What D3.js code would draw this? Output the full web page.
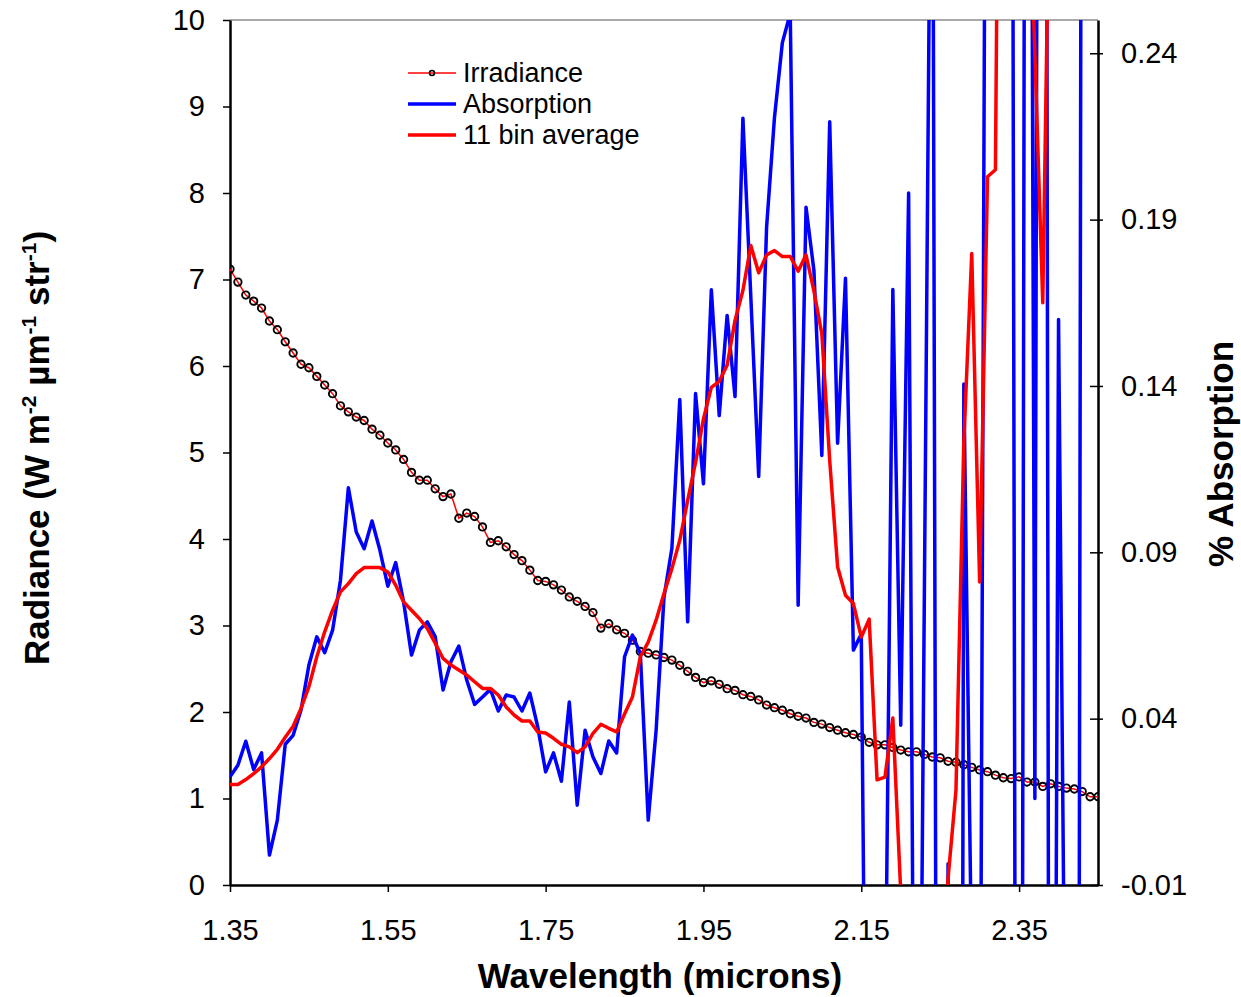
<!DOCTYPE html>
<meta charset="utf-8">
<style>
  body { margin: 0; background: #fff; }
  text { font-family: Arial, "Liberation Sans", sans-serif; fill: #000; }
</style>
<svg width="1241" height="997"></svg>
<script src="https://d3js.org/d3.v7.min.js"></script>
<script>

// wavelength in microns, one bin every 0.01
var wavelength = [
  1.35, 1.36, 1.37, 1.38, 1.39, 1.40, 1.41, 1.42, 1.43, 1.44,
  1.45, 1.46, 1.47, 1.48, 1.49, 1.50, 1.51, 1.52, 1.53, 1.54,
  1.55, 1.56, 1.57, 1.58, 1.59, 1.60, 1.61, 1.62, 1.63, 1.64,
  1.65, 1.66, 1.67, 1.68, 1.69, 1.70, 1.71, 1.72, 1.73, 1.74,
  1.75, 1.76, 1.77, 1.78, 1.79, 1.80, 1.81, 1.82, 1.83, 1.84,
  1.85, 1.86, 1.87, 1.88, 1.89, 1.90, 1.91, 1.92, 1.93, 1.94,
  1.95, 1.96, 1.97, 1.98, 1.99, 2.00, 2.01, 2.02, 2.03, 2.04,
  2.05, 2.06, 2.07, 2.08, 2.09, 2.10, 2.11, 2.12, 2.13, 2.14,
  2.15, 2.16, 2.17, 2.18, 2.19, 2.20, 2.21, 2.22, 2.23, 2.24,
  2.25, 2.26, 2.27, 2.28, 2.29, 2.30, 2.31, 2.32, 2.33, 2.34,
  2.35, 2.36, 2.37, 2.38, 2.39, 2.40, 2.41, 2.42, 2.43, 2.44,
  2.45
];

// radiance, left axis
var irradiance = [
  7.12, 6.97, 6.82, 6.75, 6.67, 6.52, 6.42, 6.28, 6.15, 6.02,
  5.98, 5.88, 5.78, 5.68, 5.54, 5.47, 5.41, 5.37, 5.27, 5.20,
  5.11, 5.03, 4.92, 4.77, 4.68, 4.68, 4.58, 4.49, 4.52, 4.24,
  4.30, 4.26, 4.14, 3.96, 3.98, 3.91, 3.82, 3.75, 3.64, 3.52,
  3.51, 3.47, 3.41, 3.33, 3.28, 3.22, 3.15, 2.97, 3.02, 2.95,
  2.91, 2.83, 2.70, 2.68, 2.66, 2.63, 2.60, 2.54, 2.47, 2.40,
  2.34, 2.36, 2.32, 2.27, 2.25, 2.20, 2.18, 2.14, 2.08, 2.05,
  2.02, 1.98, 1.95, 1.93, 1.88, 1.86, 1.82, 1.79, 1.76, 1.74,
  1.71, 1.65, 1.62, 1.62, 1.59, 1.56, 1.54, 1.54, 1.51, 1.48,
  1.47, 1.43, 1.42, 1.39, 1.36, 1.33, 1.31, 1.27, 1.24, 1.23,
  1.25, 1.19, 1.19, 1.14, 1.17, 1.14, 1.12, 1.11, 1.08, 1.02,
  1.02
];

// % absorption, right axis (values past 2.15 run off the plot)
var absorption = [
  0.0225, 0.0260, 0.0332, 0.0247, 0.0297, -0.0010, 0.0095, 0.0323, 0.0350, 0.0426,
  0.0561, 0.0646, 0.0598, 0.0666, 0.0816, 0.1094, 0.0961, 0.0911, 0.0994, 0.0906,
  0.0798, 0.0869, 0.0751, 0.0591, 0.0666, 0.0691, 0.0647, 0.0486, 0.0571, 0.0618,
  0.0516, 0.0443, 0.0465, 0.0488, 0.0423, 0.0471, 0.0465, 0.0423, 0.0477, 0.0375,
  0.0240, 0.0297, 0.0212, 0.0450, 0.0140, 0.0365, 0.0285, 0.0235, 0.0333, 0.0297,
  0.0586, 0.0651, 0.0596, 0.0095, 0.0365, 0.0765, 0.0912, 0.1359, 0.0691, 0.1377,
  0.1106, 0.1689, 0.1311, 0.1612, 0.1368, 0.2205, 0.1669, 0.1128, 0.1877, 0.2207,
  0.2432, 0.2520, 0.0741, 0.1937, 0.1747, 0.1191, 0.2194, 0.1228, 0.1724, 0.0606,
  0.0654, -0.190, -0.200, -0.060, 0.1690, 0.0380, 0.1980, -0.214, 0.0790, 0.3720,
  -0.520, -0.0036, -1.000, 0.1406, -0.037, -0.128, 0.494, 0.500, 0.500, 0.510,
  -0.600, 0.720, 0.0160, 1.000, -0.420, 0.1600, -0.108, -0.880, 0.500, 0.600,
  0.550
];

// 11 bin running average of absorption, right axis
var binAverage = [
  0.0202, 0.0202, 0.0217, 0.0235, 0.0255, 0.0280, 0.0308, 0.0344, 0.0377, 0.0431,
  0.0496, 0.0586, 0.0661, 0.0726, 0.0781, 0.0806, 0.0836, 0.0854, 0.0854, 0.0854,
  0.0841, 0.0801, 0.0751, 0.0726, 0.0701, 0.0671, 0.0627, 0.0581, 0.0561, 0.0546,
  0.0531, 0.0511, 0.0491, 0.0491, 0.0471, 0.0435, 0.0411, 0.0393, 0.0393, 0.0360,
  0.0357, 0.0341, 0.0323, 0.0315, 0.0298, 0.0315, 0.0356, 0.0383, 0.0371, 0.0360,
  0.0414, 0.0465, 0.0586, 0.0630, 0.0696, 0.0776, 0.0851, 0.0936, 0.1056, 0.1170,
  0.1301, 0.1396, 0.1414, 0.1462, 0.1597, 0.1687, 0.1822, 0.1740, 0.1794, 0.1807,
  0.1789, 0.1789, 0.1745, 0.1794, 0.1685, 0.1557, 0.1176, 0.0856, 0.0771, 0.0746,
  0.0645, 0.0699, 0.0216, 0.0224, 0.0402, -0.012, -0.050, -0.080, -0.080, -0.080,
  -0.050, -0.008, 0.0185, 0.1234, 0.1798, 0.0811, 0.2029, 0.2050, 0.500, 0.400,
  0.350, 0.310, 0.240, 0.165, 0.320, 0.400, 0.400, 0.400, 0.400, 0.400,
  0.400
];

var xTicks = [1.35, 1.55, 1.75, 1.95, 2.15, 2.35];
var leftTicks = [0, 1, 2, 3, 4, 5, 6, 7, 8, 9, 10];
var rightTicks = [-0.01, 0.04, 0.09, 0.14, 0.19, 0.24];

var margin = {top: 20, right: 143, bottom: 112, left: 230},
    width = 1241 - margin.left - margin.right,
    height = 997 - margin.top - margin.bottom;

var svg = d3.select("svg"),
    g = svg.append("g").attr("transform", "translate(" + margin.left + "," + margin.top + ")");

var x = d3.scaleLinear().domain([1.35, 2.45]).range([0, width]);
var y = d3.scaleLinear().domain([0, 10]).range([height, 0]);
var y2 = d3.scaleLinear().domain([-0.01, 0.25]).range([height, 0]);

svg.append("defs").append("clipPath")
    .attr("id", "plot")
  .append("rect")
    .attr("width", width)
    .attr("height", height);

// top frame line
g.append("line")
    .attr("x2", width)
    .attr("stroke", "#8c8c8c")
    .attr("stroke-width", 1.5);

// left axis
var yAxis = g.append("g")
    .call(d3.axisLeft(y).tickValues(leftTicks).tickSize(7).tickSizeOuter(0));
yAxis.select(".domain").attr("stroke", "#000").attr("stroke-width", 2.5);
yAxis.selectAll(".tick line").attr("stroke-width", 1.5);
yAxis.selectAll(".tick text")
    .attr("x", -25)
    .attr("font-size", 29)
    .attr("font-family", "Arial, 'Liberation Sans', sans-serif");

// right axis, ticks cross the line
var y2Axis = g.append("g")
    .attr("transform", "translate(" + width + ",0)")
    .call(d3.axisRight(y2).tickValues(rightTicks).tickSize(6).tickSizeOuter(0)
      .tickFormat(function(d) { return d.toFixed(2); }));
y2Axis.select(".domain").attr("stroke", "#000").attr("stroke-width", 2.5);
y2Axis.selectAll(".tick line").attr("x1", -8).attr("x2", 5).attr("stroke-width", 1.5);
y2Axis.selectAll(".tick text")
    .attr("x", 23)
    .attr("font-size", 29)
    .attr("font-family", "Arial, 'Liberation Sans', sans-serif");

// bottom axis
var xAxis = g.append("g")
    .attr("transform", "translate(0," + height + ")")
    .call(d3.axisBottom(x).tickValues(xTicks).tickSize(7).tickSizeOuter(0)
      .tickFormat(function(d) { return d.toFixed(2); }));
xAxis.select(".domain").attr("stroke", "#000").attr("stroke-width", 2.5);
xAxis.selectAll(".tick line").attr("stroke-width", 1.5);
xAxis.selectAll(".tick text")
    .attr("y", 45)
    .attr("dy", "0.35em")
    .attr("font-size", 29)
    .attr("font-family", "Arial, 'Liberation Sans', sans-serif");

var plot = g.append("g").attr("clip-path", "url(#plot)");

var irrLine = d3.line()
    .x(function(d, i) { return x(wavelength[i]); })
    .y(function(d) { return y(d); });

var absLine = d3.line()
    .x(function(d, i) { return x(wavelength[i]); })
    .y(function(d) { return y2(d); });

plot.append("path")
    .datum(irradiance)
    .attr("fill", "none")
    .attr("stroke", "#ff0000")
    .attr("stroke-width", 1.5)
    .attr("d", irrLine);

plot.append("g")
  .selectAll("circle")
  .data(irradiance)
  .enter().append("circle")
    .attr("cx", function(d, i) { return x(wavelength[i]); })
    .attr("cy", function(d) { return y(d); })
    .attr("r", 3.7)
    .attr("fill", "none")
    .attr("stroke", "#000")
    .attr("stroke-width", 1.9);

plot.append("path")
    .datum(absorption)
    .attr("fill", "none")
    .attr("stroke", "#0000ff")
    .attr("stroke-width", 3.5)
    .attr("stroke-linejoin", "round")
    .attr("d", absLine);

plot.append("path")
    .datum(binAverage)
    .attr("fill", "none")
    .attr("stroke", "#ff0000")
    .attr("stroke-width", 3.5)
    .attr("stroke-linejoin", "round")
    .attr("d", absLine);

// legend
var legendItems = [
  {name: "Irradiance", color: "#ff0000", width: 1.5, marker: true},
  {name: "Absorption", color: "#0000ff", width: 3.5, marker: false},
  {name: "11 bin average", color: "#ff0000", width: 3.5, marker: false}
];

var legend = svg.append("g")
  .selectAll("g")
  .data(legendItems)
  .enter().append("g")
    .attr("transform", function(d, i) { return "translate(408," + (73 + i * 31) + ")"; });

legend.append("line")
    .attr("x2", 48)
    .attr("stroke", function(d) { return d.color; })
    .attr("stroke-width", function(d) { return d.width; });

legend.filter(function(d) { return d.marker; })
  .append("circle")
    .attr("cx", 24)
    .attr("r", 2.5)
    .attr("fill", "none")
    .attr("stroke", "#000")
    .attr("stroke-width", 1.5);

legend.append("text")
    .attr("x", 55)
    .attr("dy", "0.35em")
    .attr("font-size", 27)
    .text(function(d) { return d.name; });

// axis titles
svg.append("text")
    .attr("x", 660)
    .attr("y", 988)
    .attr("text-anchor", "middle")
    .attr("font-size", 35)
    .attr("font-weight", "bold")
    .text("Wavelength (microns)");

var yTitle = svg.append("text")
    .attr("transform", "translate(49,448) rotate(-90)")
    .attr("text-anchor", "middle")
    .attr("font-size", 35)
    .attr("font-weight", "bold");
yTitle.append("tspan").text("Radiance (W m");
yTitle.append("tspan").attr("dy", -13).attr("font-size", 21).text("-2");
yTitle.append("tspan").attr("dy", 13).text(" \u00b5m");
yTitle.append("tspan").attr("dy", -13).attr("font-size", 21).text("-1");
yTitle.append("tspan").attr("dy", 13).text(" str");
yTitle.append("tspan").attr("dy", -13).attr("font-size", 21).text("-1");
yTitle.append("tspan").attr("dy", 13).text(")");

svg.append("text")
    .attr("transform", "translate(1233,454) rotate(-90)")
    .attr("text-anchor", "middle")
    .attr("font-size", 35)
    .attr("font-weight", "bold")
    .text("% Absorption");

</script>
